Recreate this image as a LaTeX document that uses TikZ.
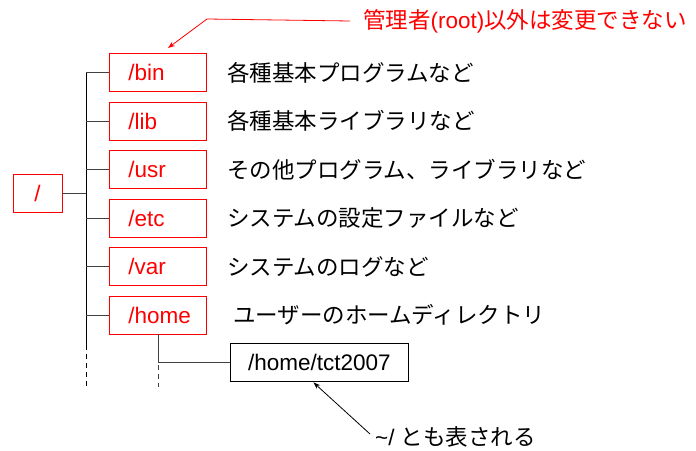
\documentclass[tikz,border=0pt]{standalone}
\usepackage{fontspec}
\setmainfont{Liberation Sans}
\newfontfamily\jpfont{Noto Sans CJK JP}
\usetikzlibrary{arrows.meta}
\tikzset{
	dirbox/.style={draw=red,text=red,line width=0.9pt,anchor=west,align=left,
		text width=59pt,inner xsep=19pt,inner ysep=0pt,minimum height=38pt},
	plainbox/.style={draw=black,line width=0.9pt,inner xsep=0pt,inner ysep=0pt,minimum height=38pt},
	desc/.style={anchor=west,inner sep=0pt},
	branch/.style={draw=black!75,line width=0.9pt},
	note/.style={anchor=west,inner sep=0pt}
}
\begin{document}
\begin{tikzpicture}[x=1pt,y=-1pt,every node/.style={font=\fontsize{22.5}{27}\selectfont}]
		\useasboundingbox (0,0) rectangle (696,450);
		% root and trunk
		\node[dirbox,align=center,text width=,inner xsep=0pt,minimum width=49pt,anchor=center] (root) at (37.5,193) {/};
		\coordinate (trunktop) at (86,72.5);
		\coordinate (trunkend) at (86,345);
		\draw[line width=0.9pt] (trunktop) -- (trunkend);
		\draw[line width=0.9pt,dash pattern=on 5pt off 4pt] (trunkend) -- ++(0,42);
		\draw[branch] (root.east) -- (root.east -| trunktop);
		\foreach \name/\desc/\dx [count=\i from 0] in {bin/各種基本プログラムなど/20, lib/各種基本ライブラリなど/20, usr/その他プログラム、ライブラリなど/20, etc/システムの設定ファイルなど/20, var/システムのログなど/20, home/ユーザーのホームディレクトリ/26}
		{
			\node[dirbox] (\name) at (109,{72.5+48.5*\i}) {/\name};
			\node[desc] (\name-desc) at ([xshift=\dx pt]\name.east) {\jpfont\desc};
			\draw[branch] (\name.west) -- (\name.west -| trunktop);
		}
		% home directory of the user
		\node[plainbox,anchor=west,minimum width=178pt] (tct) at (230,362) {/home/tct2007};
		\draw[branch] (home.south) -- (home.south |- tct.west) -- (tct.west);
		\draw[branch,dash pattern=on 5pt off 4pt] (home.south |- tct.west) ++(0,3) -- ++(0,22);
		% notes
		\node[note,text=red] (warn) at (363,21) {{\jpfont 管理者}(root){\jpfont 以外は変更できない}};
		\coordinate (bend) at (207,19);
		\coordinate (bintip) at (168,48);
		\draw[red,line width=0.8pt,-{Stealth[length=7pt,width=5pt]}] ([xshift=-13pt]warn.west) -- (bend) -- (bintip);
		\node[note] (alias) at (375,437) {\textasciitilde/ {\jpfont とも表される}};
		\draw[line width=0.8pt,-{Stealth[length=7pt,width=5pt]}] ([xshift=-5pt,yshift=3pt]alias.west) -- ([xshift=-6pt,yshift=-1pt]tct.south);
\end{tikzpicture}
\end{document}
